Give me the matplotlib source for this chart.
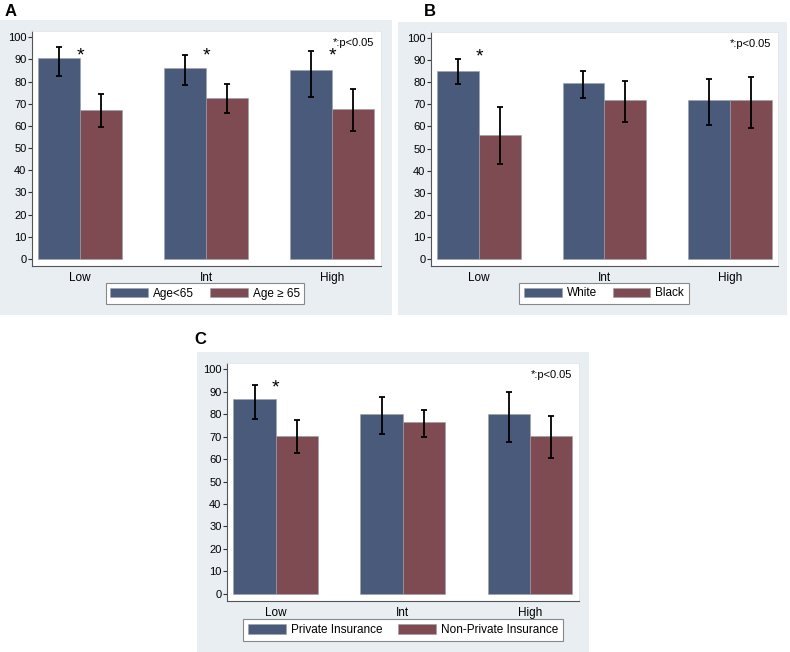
import numpy as np
import matplotlib
matplotlib.use("Agg")
import matplotlib.pyplot as plt
from matplotlib.patches import Rectangle

plt.rcParams['font.family'] = ['Liberation Sans', 'DejaVu Sans']

# data
levels = ['Low', 'Int', 'High']

age_lt65 = [90.7, 86.0, 85.1]
age_lt65_lo = [82.7, 78.5, 73.1]
age_lt65_hi = [95.5, 92.0, 93.6]
age_ge65 = [67.3, 72.7, 67.4]
age_ge65_lo = [59.3, 65.9, 57.5]
age_ge65_hi = [74.6, 78.7, 76.6]
stars_a = [0, 1, 2]

white = [85.3, 79.7, 72.0]
white_lo = [79.2, 72.7, 60.5]
white_hi = [90.5, 85.0, 81.4]
black = [56.2, 72.0, 72.0]
black_lo = [43.2, 62.0, 59.2]
black_hi = [68.6, 80.4, 82.4]
stars_b = [0]

private = [86.6, 80.3, 80.3]
private_lo = [77.7, 71.1, 67.5]
private_hi = [92.9, 87.7, 89.9]
nonprivate = [70.5, 76.4, 70.3]
nonprivate_lo = [62.6, 70.0, 60.4]
nonprivate_hi = [77.6, 82.0, 79.4]
stars_c = [0]

BLUE = '#4a5a7b'
RED = '#7e4b52'
BG = '#e8eef1'

W, H = 790, 652
fig = plt.figure(figsize=(W / 100, H / 100), dpi=100)


def fx(px):
    return px / W


def fy(py):
    return 1 - py / H


def background(x0, y0, x1, y1):
    fig.patches.append(Rectangle((fx(x0), fy(y1)), fx(x1) - fx(x0), fy(y0) - fy(y1),
                                 transform=fig.transFigure, facecolor=BG,
                                 edgecolor='none', zorder=-10))


def panel(box, letter, letter_xy, s1, s2, names, stars, legend_xy):
    x0, y0, x1, y1 = box
    ax = fig.add_axes([fx(x0), fy(y1), fx(x1) - fx(x0), fy(y0) - fy(y1)])
    ax.set_zorder(1)
    ax.set_facecolor('white')
    x = np.arange(len(levels))
    w = 1 / 3
    for k, (vals, lo, hi, col) in enumerate([(s1[0], s1[1], s1[2], BLUE),
                                              (s2[0], s2[1], s2[2], RED)]):
        pos = x - w / 2 + k * w
        vals = np.array(vals)
        ax.bar(pos, vals, width=w, color=col, edgecolor='#9aa0ad', linewidth=0.4,
               label=names[k], zorder=2)
        ax.errorbar(pos, vals, yerr=[vals - np.array(lo), np.array(hi) - vals],
                    fmt='none', ecolor='black', elinewidth=1.3, capsize=2.2,
                    capthick=1.3, zorder=3)
    for i in stars:
        ax.text(i, 91.5, '*', ha='center', va='center', fontsize=14, zorder=4)
    ax.text(2.33, 97.5, '*:p<0.05', ha='right', va='center', fontsize=8)

    ax.set_xlim(-0.383, 2.385)
    ax.set_ylim(-3.2, 102.8)
    ax.set_yticks(range(0, 101, 10))
    ax.set_xticks(x)
    ax.set_xticklabels(levels)
    ax.tick_params(axis='y', length=3, width=0.8, pad=1, labelsize=8, color='#333333')
    ax.tick_params(axis='x', length=0, pad=4, labelsize=8.5)
    for s in ['top', 'right']:
        ax.spines[s].set_color('#e4e4e4')
        ax.spines[s].set_linewidth(0.6)
    for s in ['left', 'bottom']:
        ax.spines[s].set_color('#555555')
        ax.spines[s].set_linewidth(0.8)

    leg = ax.legend(loc='center', bbox_to_anchor=(fx(legend_xy[0]), fy(legend_xy[1])),
                    bbox_transform=fig.transFigure, ncol=2, fontsize=8.5,
                    fancybox=False, handlelength=3.2, handleheight=0.85,
                    columnspacing=1.35, handletextpad=0.42, borderpad=0.4,
                    borderaxespad=0, framealpha=1)
    leg.get_frame().set_edgecolor('#888888')
    leg.get_frame().set_linewidth(0.8)

    fig.text(fx(letter_xy[0]), fy(letter_xy[1]), letter, fontsize=12,
             fontweight='bold', ha='left', va='top')
    return ax


background(0, 20, 392, 315)
background(398, 22, 787, 315)
background(197, 352, 589, 652)

panel((32, 31, 381, 266), 'A', (5, 4),
      (age_lt65, age_lt65_lo, age_lt65_hi), (age_ge65, age_ge65_lo, age_ge65_hi),
      ['Age<65', 'Age ≥ 65'], stars_a, (205, 293.5))

panel((431, 32, 778, 266), 'B', (424, 4),
      (white, white_lo, white_hi), (black, black_lo, black_hi),
      ['White', 'Black'], stars_b, (604, 293.5))

panel((227, 363, 579, 601), 'C', (194, 332),
      (private, private_lo, private_hi), (nonprivate, nonprivate_lo, nonprivate_hi),
      ['Private Insurance', 'Non-Private Insurance'], stars_c, (403, 630))

fig.savefig('out.png', dpi=100)
